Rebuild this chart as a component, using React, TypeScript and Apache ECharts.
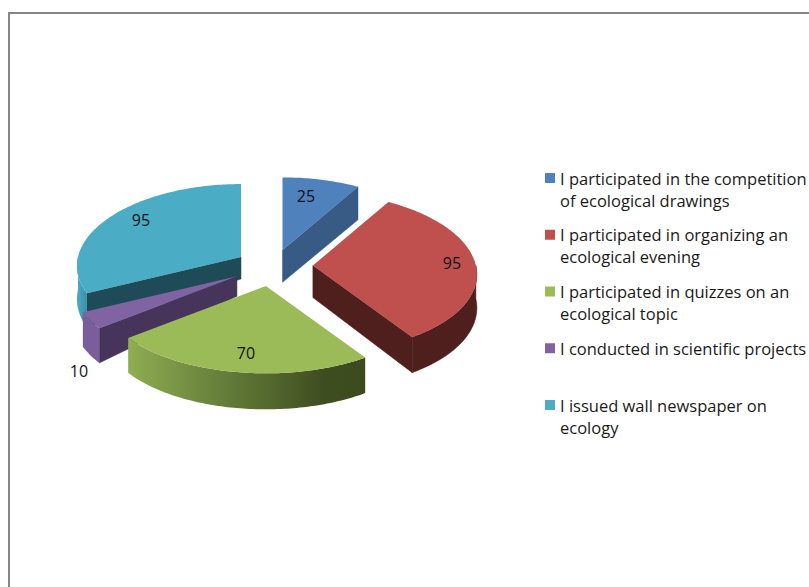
import React, { useEffect, useRef } from "react";
import * as echarts from "echarts";

const categories = [
  "I participated in the competition of ecological drawings",
  "I participated in organizing an ecological evening",
  "I participated in quizzes on an ecological topic",
  "I conducted in scientific projects",
  "I issued wall newspaper on ecology",
];
const legendLabels = [
  "\nI participated in the competition\nof ecological drawings",
  "\nI participated in organizing an\necological evening",
  "\nI participated in quizzes on an\necological topic",
  "\nI conducted in scientific projects\n",
  "\nI issued wall newspaper on\necology",
];
const values = [25, 95, 70, 10, 95];
const topColors = ["#4F81BD", "#C0504D", "#9BBB59", "#8064A2", "#4BACC6"];
const wallColors = ["#375B85", "#4E1F1D", "#5F7736", "#47345A", "#1F4A58"];
const drawOrder = [4, 3, 0, 1, 2];
const labelPositions: number[][] = [[306, 196], [452, 263], [246, 353], [79, 371], [141, 220]];
const apexDepths = [32, 32, 32, 20, 22];

const CX = 273, CY = 266, R = 163, PERSP = 0.1116, EXPLODE = 40, EXPLODE_TILT = 0.45;
const RY = 79.5, PERSP_Y = 0.09, DEPTH = 33, DEPTH_FRONT = 3;
const FONT = '"Open Sans", sans-serif';
const total = values.reduce((a, b) => a + b, 0);
const rad = (d: number) => (d * Math.PI) / 180;

function project(deg: number): number[] {
  const c = Math.cos(rad(deg));
  const s = Math.sin(rad(deg));
  return [(R * s) / (1 + PERSP * c), (-RY * c) / (1 + PERSP_Y * c)];
}

function explodeOffset(deg: number): number[] {
  const c = Math.cos(rad(deg));
  const s = Math.sin(rad(deg));
  const f = 1 / (1 + PERSP * c);
  return [EXPLODE * f * s, -EXPLODE * EXPLODE_TILT * f * c];
}

function depthAt(deg: number): number {
  return DEPTH + DEPTH_FRONT * Math.max(0, -Math.cos(rad(deg)));
}

function sliceRange(i: number): number[] {
  const before = values.slice(0, i).reduce((a, b) => a + b, 0);
  return [(before / total) * 360, ((before + values[i]) / total) * 360];
}

function arcPoints(apex: number[], from: number, to: number, lowered = false): number[][] {
  const pts: number[][] = [];
  const n = Math.max(2, Math.ceil(to - from));
  for (let s = 0; s <= n; s++) {
    const deg = from + ((to - from) * s) / n;
    const p = project(deg);
    pts.push([apex[0] + p[0], apex[1] + p[1] + (lowered ? depthAt(deg) : 0)]);
  }
  return pts;
}

function makeRenderItem(i: number) {
  return (_params: any, api: any) => {
    const value = api.value(0);
    const [start, end] = sliceRange(i);
    const off = explodeOffset((start + end) / 2);
    const apex = [CX + off[0], CY + off[1]];
    const children: any[] = [];
    const apexDepth = apexDepths[i];

    // Flat cut faces turned towards the viewer
    const wallFace = (deg: number) => {
      const p = project(deg);
      const outer = [apex[0] + p[0], apex[1] + p[1]];
      children.push({
        type: "polygon",
        shape: { points: [apex, outer, [outer[0], outer[1] + depthAt(deg)], [apex[0], apex[1] + apexDepth]] },
        style: { fill: wallColors[i], stroke: wallColors[i], lineWidth: 0.5 },
      });
    };
    if (Math.sin(rad(start)) < -1e-3) wallFace(start);
    if (Math.sin(rad(end)) > 1e-3) wallFace(end);

    // Curved outer rim
    const a = Math.max(start, 90), b = Math.min(end, 270);
    if (b > a) {
      const upper = arcPoints(apex, a, b);
      const lower = arcPoints(apex, a, b, true).reverse();
      let fill: any = wallColors[i];
      let stroke: any = wallColors[i];
      if (i === 2) {
        stroke = undefined;
        fill = new echarts.graphic.LinearGradient(1, 0, 0, 0, [
          { offset: 0, color: "#3C4A1E" },
          { offset: 0.18, color: "#3F4E20" },
          { offset: 0.6, color: "#657E3A" },
          { offset: 1, color: "#8FAD52" },
        ]);
      } else if (i === 3) {
        stroke = undefined;
        fill = "#7A5E9B";
      } else if (i === 4) {
        stroke = undefined;
        fill = new echarts.graphic.LinearGradient(0, 0, 1, 0, [
          { offset: 0, color: "#4BACC6" },
          { offset: 1, color: "#3A8FA8" },
        ]);
      }
      children.push({
        type: "polygon",
        shape: { points: upper.concat(lower) },
        style: stroke ? { fill, stroke, lineWidth: 0.5 } : { fill },
      });
    }

    // Top surface
    children.push({
      type: "polygon",
      shape: { points: [apex].concat(arcPoints(apex, start, end)) },
      style: { fill: topColors[i] },
    });

    // Data label
    children.push({
      type: "text",
      x: labelPositions[i][0],
      y: labelPositions[i][1],
      z2: 100,
      style: {
        text: String(value),
        fill: "#111111",
        font: `16px ${FONT}`,
        align: "center",
        verticalAlign: "middle",
      },
    });
    return { type: "group", children };
  };
}

export default function App() {
  const ref = useRef<HTMLDivElement>(null);
  useEffect(() => {
    const chart = echarts.init(ref.current!, undefined, { renderer: "svg" });
    chart.setOption({
      animation: false,
      backgroundColor: "#ffffff",
      legend: {
        show: true,
        orient: "vertical",
        left: 540,
        top: 140,
        itemWidth: 10,
        itemHeight: 10,
        itemGap: -9.25,
        selectedMode: false,
        icon: "rect",
        data: categories,
        formatter: (name: string) => legendLabels[categories.indexOf(name)],
        textStyle: {
          fontFamily: FONT,
          fontSize: 16.5,
          color: "#1a1a1a",
          lineHeight: 22,
        },
      },
      graphic: [
        {
          type: "polyline",
          silent: true,
          shape: { points: [[9, 587], [9, 13], [809, 13]] },
          style: { stroke: "#868686", lineWidth: 2, fill: "none" },
        },
      ],
      series: drawOrder.map((i) => ({
        type: "custom",
        name: categories[i],
        coordinateSystem: "none",
        itemStyle: { color: topColors[i] },
        data: [values[i]],
        renderItem: makeRenderItem(i),
      })),
    });
    return () => chart.dispose();
  }, []);
  return (
    <div
      ref={ref}
      style={{ position: "fixed", left: 0, top: 0, width: 809, height: 587 }}
    />
  );
}
